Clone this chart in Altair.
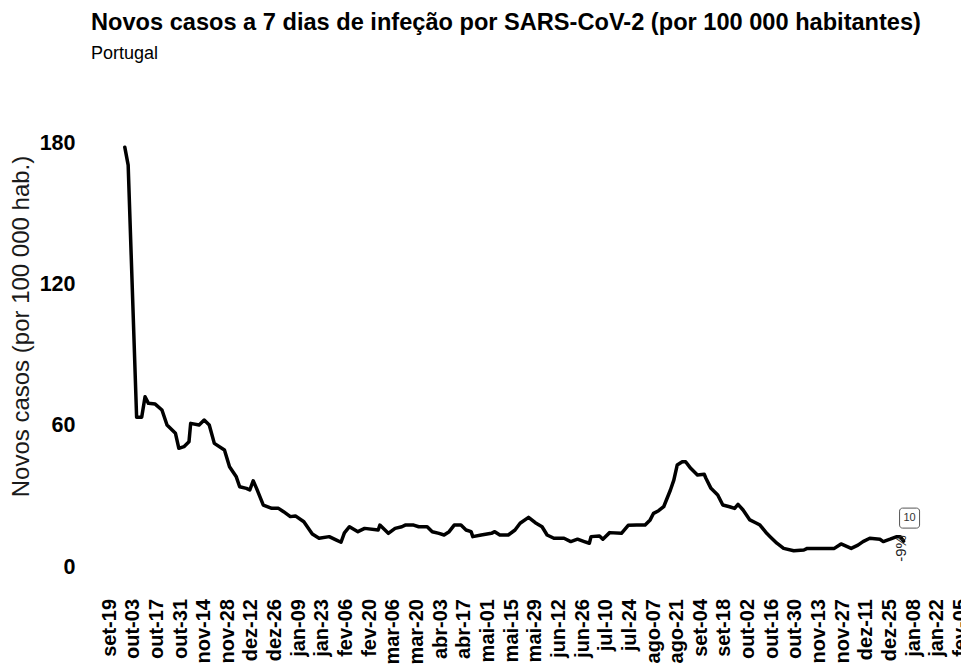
import altair as alt
import pandas as pd

# ---- data ----
START = "2021-09-19"          # first x tick (set-19)
# day offsets from START and the 7-day incidence (per 100 000)
day_offsets = [9, 11, 16, 19, 21, 23, 27, 31, 34, 39,
               41, 44, 47, 48, 53, 56, 59, 62, 68, 71,
               75, 77, 81, 83, 85, 87, 91, 96, 100, 103,
               107, 110, 115, 120, 124, 130, 134, 137, 139, 142,
               147, 151, 159, 160, 165, 169, 173, 175, 180, 183,
               188, 191, 195, 198, 201, 204, 208, 211, 214, 215,
               220, 226, 228, 231, 236, 240, 243, 248, 252, 256,
               259, 263, 269, 273, 277, 281, 284, 285, 290, 292,
               296, 303, 307, 312, 317, 320, 322, 325, 328, 332,
               334, 336, 339, 341, 344, 348, 352, 353, 356, 360,
               363, 367, 370, 372, 375, 379, 383, 385, 389, 391,
               395, 399, 405, 411, 413, 429, 433, 439, 443, 446,
               450, 456, 458, 462, 466, 468, 470]
values = [178.3, 170.7, 63.6, 63.6, 72.3, 69.5, 69.2, 66.7, 60.3, 56.8,
          50.4, 51.1, 53.2, 61.0, 60.3, 62.4, 60.3, 52.5, 49.7, 42.6,
          38.3, 34.1, 33.4, 32.7, 36.6, 33.4, 26.3, 24.9, 24.9, 23.5,
          21.4, 21.7, 19.2, 14.0, 12.2, 12.9, 11.5, 10.5, 14.5, 17.1,
          15.0, 16.4, 15.7, 17.8, 14.3, 16.4, 17.1, 17.8, 17.8, 17.1,
          17.1, 15.0, 14.3, 13.6, 15.0, 17.8, 17.8, 15.7, 15.0, 12.9,
          13.6, 14.3, 15.0, 13.6, 13.6, 15.7, 18.6, 21.1, 18.8, 17.1,
          13.6, 12.2, 12.2, 10.8, 11.8, 10.8, 10.1, 12.9, 13.2, 11.8,
          14.6, 14.3, 17.7, 17.8, 17.8, 20.0, 22.8, 23.9, 25.6, 32.7,
          36.9, 43.3, 44.7, 44.7, 41.9, 39.1, 39.4, 37.7, 33.4, 30.6,
          26.3, 25.6, 24.9, 26.6, 24.2, 20.0, 18.6, 17.8, 14.3, 12.9,
          10.1, 7.9, 6.9, 7.2, 7.9, 7.9, 9.8, 7.9, 9.3, 10.8,
          12.2, 11.8, 10.8, 11.8, 12.9, 12.9, 11.0]

# x tick labels, one every 14 days from START
tick_labels = ["set-19", "out-03", "out-17", "out-31", "nov-14", "nov-28",
               "dez-12", "dez-26", "jan-09", "jan-23", "fev-06", "fev-20",
               "mar-06", "mar-20", "abr-03", "abr-17", "mai-01", "mai-15",
               "mai-29", "jun-12", "jun-26", "jul-10", "jul-24", "ago-07",
               "ago-21", "set-04", "set-18", "out-02", "out-16", "out-30",
               "nov-13", "nov-27", "dez-11", "dez-25", "jan-08", "jan-22",
               "fev-05"]
tick_step_days = 14
domain_days = [-11, 504]
y_ticks = [0, 60, 120, 180]
y_domain = [-4.67, 204.7]

last_label = "10"
change_label = "-9%"

TITLE = "Novos casos a 7 dias de infeção por SARS-CoV-2 (por 100 000 habitantes)"
SUBTITLE = "Portugal"
Y_TITLE = "Novos casos (por 100 000 hab.)"

# ---- build tables ----
start = pd.Timestamp(START)
def day_str(d):
    return (start + pd.Timedelta(days=d)).strftime("%Y-%m-%d")

df = pd.DataFrame({"date": [day_str(d) for d in day_offsets], "value": values})
ticks = pd.DataFrame({"date": [day_str(tick_step_days * i) for i in range(len(tick_labels))],
                      "lab": tick_labels})
last = df.iloc[[-1]].copy()
last["lab"] = last_label
last["chg"] = change_label

x_dom = [int((start + pd.Timedelta(days=d)).value // 10**6) for d in domain_days]

FONT = "Liberation Sans"
W, H = 870, 493

x_scale = alt.Scale(type="utc", domain=x_dom, nice=False)
x_enc = alt.X("date:T", scale=x_scale, axis=None)
y_enc = alt.Y("value:Q",
              scale=alt.Scale(domain=y_domain, nice=False, zero=False),
              axis=alt.Axis(values=y_ticks, labelFontSize=21.5, labelFontWeight="bold",
                            labelFont=FONT, labelColor="black", labelPadding=16,
                            ticks=False, domain=False, grid=False,
                            title=Y_TITLE, titleFont=FONT, titleFontSize=24,
                            titleFontWeight="normal", titleColor="#1a1a1a",
                            titleAngle=270, titleAlign="center", titleBaseline="middle",
                            titleX=-70, titleY=241))

line = alt.Chart(df).mark_line(color="black", strokeWidth=3.5, strokeJoin="round",
                               strokeCap="round").encode(x=x_enc, y=y_enc)

xlabels = alt.Chart(ticks).mark_text(font=FONT, fontSize=20, fontWeight="bold",
                                     color="black", angle=270, align="right",
                                     baseline="middle").encode(
    x=alt.X("date:T", scale=x_scale, axis=None),
    y=alt.value(H + 21),
    text="lab:N")

box = alt.Chart(last).mark_rect(width=20, height=20, cornerRadius=3, fill="white",
                                stroke="#555555", strokeWidth=1,
                                xOffset=6, yOffset=-23).encode(x="date:T", y="value:Q")
box_txt = alt.Chart(last).mark_text(font=FONT, fontSize=11, color="#333333",
                                    xOffset=6, yOffset=-23, align="center",
                                    baseline="middle").encode(x="date:T", y="value:Q", text="lab:N")
chg_txt = alt.Chart(last).mark_text(font=FONT, fontSize=15, color="#222222", angle=270,
                                    align="right", baseline="middle",
                                    xOffset=-3, yOffset=-6).encode(x="date:T", y="value:Q", text="chg:N")

chart = alt.layer(line, xlabels, box, box_txt, chg_txt).properties(
    width=W, height=H,
    background="white",
    autosize=alt.AutoSizeParams(type="none"),
    padding={"left": 83, "top": 77, "right": 0, "bottom": 86},
    title=alt.TitleParams(text=TITLE, subtitle=SUBTITLE, anchor="start", frame="group",
                          font=FONT, fontSize=23.6, fontWeight="bold", color="black",
                          subtitleFont=FONT, subtitleFontSize=18, subtitleColor="black",
                          subtitlePadding=10, offset=22),
).configure_view(stroke=None)

chart.save("out.html", embed_options={"renderer": "svg", "actions": False})
